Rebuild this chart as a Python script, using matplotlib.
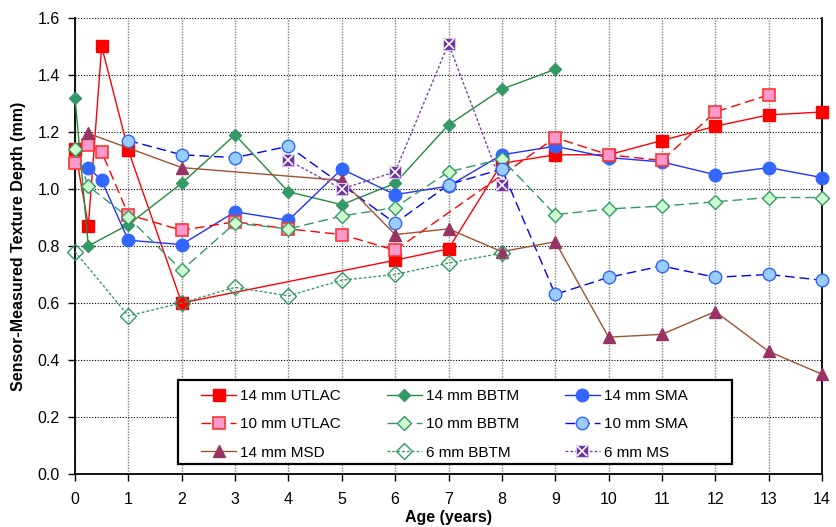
import matplotlib
matplotlib.use('Agg')
import matplotlib.pyplot as plt
from matplotlib.legend_handler import HandlerTuple
from matplotlib.patches import Rectangle

plt.rcParams['font.family'] = ['Liberation Sans', 'DejaVu Sans']

# Sensor-measured texture depth (mm) against surface age (years)
ages_14_utlac = [0, 0.25, 0.5, 1, 2, 6, 7, 8, 9, 10, 11, 12, 13, 14]
mtd_14_utlac = [1.14, 0.87, 1.50, 1.135, 0.60, 0.75, 0.79, 1.09, 1.12, 1.12, 1.17, 1.22, 1.26, 1.27]

ages_14_bbtm = [0, 0.25, 1, 2, 3, 4, 5, 6, 7, 8, 9]
mtd_14_bbtm = [1.32, 0.80, 0.875, 1.02, 1.19, 0.99, 0.945, 1.02, 1.225, 1.35, 1.42]

ages_14_sma = [0.25, 0.5, 1, 2, 3, 4, 5, 6, 7, 8, 9, 10, 11, 12, 13, 14]
mtd_14_sma = [1.075, 1.03, 0.82, 0.805, 0.92, 0.89, 1.07, 0.98, 1.01, 1.12, 1.15,
              1.11, 1.095, 1.05, 1.075, 1.04]

ages_10_utlac = [0, 0.25, 0.5, 1, 2, 3, 4, 5, 6, 9, 10, 11, 12, 13]
mtd_10_utlac = [1.09, 1.155, 1.13, 0.91, 0.855, 0.885, 0.86, 0.84, 0.785, 1.18, 1.12, 1.10, 1.27, 1.33]

ages_10_bbtm = [0, 0.25, 1, 2, 3, 4, 5, 6, 7, 8, 9, 10, 11, 12, 13, 14]
mtd_10_bbtm = [1.14, 1.01, 0.90, 0.715, 0.88, 0.86, 0.905, 0.935, 1.06, 1.105, 0.91,
               0.93, 0.94, 0.955, 0.97, 0.97]

ages_10_sma = [1, 2, 3, 4, 6, 7, 8, 9, 10, 11, 12, 13, 14]
mtd_10_sma = [1.17, 1.12, 1.11, 1.15, 0.88, 1.015, 1.07, 0.63, 0.69, 0.73, 0.69, 0.70, 0.68]

ages_14_msd = [0.25, 2, 5, 6, 7, 8, 9, 10, 11, 12, 13, 14]
mtd_14_msd = [1.195, 1.075, 1.03, 0.84, 0.86, 0.78, 0.815, 0.48, 0.49, 0.57, 0.43, 0.35]

ages_6_bbtm = [0, 1, 2, 3, 4, 5, 6, 7, 8]
mtd_6_bbtm = [0.78, 0.555, 0.60, 0.655, 0.625, 0.68, 0.70, 0.74, 0.775]

ages_6_ms = [4, 5, 6, 7, 8]
mtd_6_ms = [1.10, 1.00, 1.06, 1.51, 1.015]

x_ticks = list(range(0, 15))
y_ticks = [0.0, 0.2, 0.4, 0.6, 0.8, 1.0, 1.2, 1.4, 1.6]

DASH = (0, (7, 3.5))
DOT = (0, (2, 1.5))
GREEN = '#339966'

fig = plt.figure(figsize=(8.37, 5.27), dpi=100)
ax = fig.add_axes([0.0896, 0.1006, 0.8925, 0.8653])

common = dict(lw=1.0, clip_on=False)

h1, = ax.plot(ages_14_utlac, mtd_14_utlac, color='#FF0000', marker='s', ms=8,
              mfc='#FF0000', mec='#FF0000', zorder=3.1, **common)
h2, = ax.plot(ages_14_bbtm, mtd_14_bbtm, color='#228B3C', marker='D', ms=6,
              mfc=GREEN, mec=GREEN, zorder=3.2, **common)
h3, = ax.plot(ages_14_sma, mtd_14_sma, color='#2233FF', marker='o', ms=9,
              mfc='#3366FF', mec='#3366FF', zorder=3.3, **common)
h4, = ax.plot(ages_10_utlac, mtd_10_utlac, color='#FF0000', ls=DASH, marker='s', ms=8.5,
              mfc='#FF99CC', mec='#FF3333', mew=1.2, zorder=3.4, **common)
h5, = ax.plot(ages_10_bbtm, mtd_10_bbtm, color=GREEN, ls=DASH, marker='D', ms=7,
              mfc='#CCFFCC', mec=GREEN, mew=1.0, zorder=3.5, **common)
h6, = ax.plot(ages_10_sma, mtd_10_sma, color='#0000FF', ls=DASH, marker='o', ms=9,
              mfc='#99CCFF', mec='#3366FF', mew=1.0, zorder=3.6, **common)
h7, = ax.plot(ages_14_msd, mtd_14_msd, color='#A0522D', marker='^', ms=8.5,
              mfc='#993366', mec='#993366', zorder=3.7, **common)
h8, = ax.plot(ages_6_bbtm, mtd_6_bbtm, color=GREEN, ls=DOT, marker='D', ms=8,
              mfc='none', mec=GREEN, mew=1.0, zorder=3.8, **common)
h9, = ax.plot(ages_6_ms, mtd_6_ms, color='#8040B0', ls=DOT, marker='s', ms=8,
              mfc='#7030A0', mec='#D8C8EC', mew=0.8, zorder=3.9, **common)
h9x, = ax.plot(ages_6_ms, mtd_6_ms, ls='none', marker='x', ms=6.5, mec='white',
               mew=1.2, zorder=3.95, clip_on=False)

ax.set_xlim(0, 14)
ax.set_ylim(0, 1.6)
ax.set_xticks(x_ticks)
ax.set_yticks(y_ticks)
ax.set_yticklabels([f'{v:.1f}' for v in y_ticks])
ax.tick_params(axis='both', direction='out', length=5, width=1, labelsize=11.5)
ax.tick_params(axis='x', pad=8)
ax.tick_params(axis='y', pad=6)

ax.xaxis.grid(True, color='#808080', ls=(0, (1, 1)), lw=1.0)
ax.yaxis.grid(True, color='black', ls=(0, (1, 1.5)), lw=0.8)
ax.set_axisbelow(True)

ax.spines['top'].set_visible(False)
for s in ['left', 'bottom', 'right']:
    ax.spines[s].set_linewidth(1.3)
    ax.spines[s].set_color('black')

ax.set_xlabel('Age (years)', fontsize=11.5, fontweight='bold', labelpad=2)
ax.set_ylabel('Sensor-Measured Texture Depth (mm)', fontsize=11.5, fontweight='bold', labelpad=8)

# legend box drawn separately so the entries can sit further in from the edge
box = Rectangle((0.1379, 0.0219), 0.7416, 0.1842, transform=ax.transAxes,
                facecolor='white', edgecolor='black', lw=1.6, zorder=4.9, clip_on=False)
ax.add_patch(box)

# legend reads row-wise: columns are UTLAC/MSD, BBTM, SMA/MS
handles = [h1, h4, h7, h2, h5, h8, h3, h6, (h9, h9x)]
labels = ['14 mm UTLAC', '10 mm UTLAC', '14 mm MSD',
          '14 mm BBTM', '10 mm BBTM', '6 mm BBTM',
          '14 mm SMA', '10 mm SMA', '6 mm MS']
leg = ax.legend(handles, labels, ncol=3, loc='center left',
                bbox_to_anchor=(0.1687, 0.1086, 0.652, 0), mode='expand',
                borderaxespad=0, borderpad=0, fontsize=11, numpoints=1,
                handlelength=2.3, handletextpad=0.28, labelspacing=0.92,
                frameon=False,
                handler_map={tuple: HandlerTuple(ndivide=1)})
leg.set_zorder(5)

fig.savefig('out.png', dpi=100)
